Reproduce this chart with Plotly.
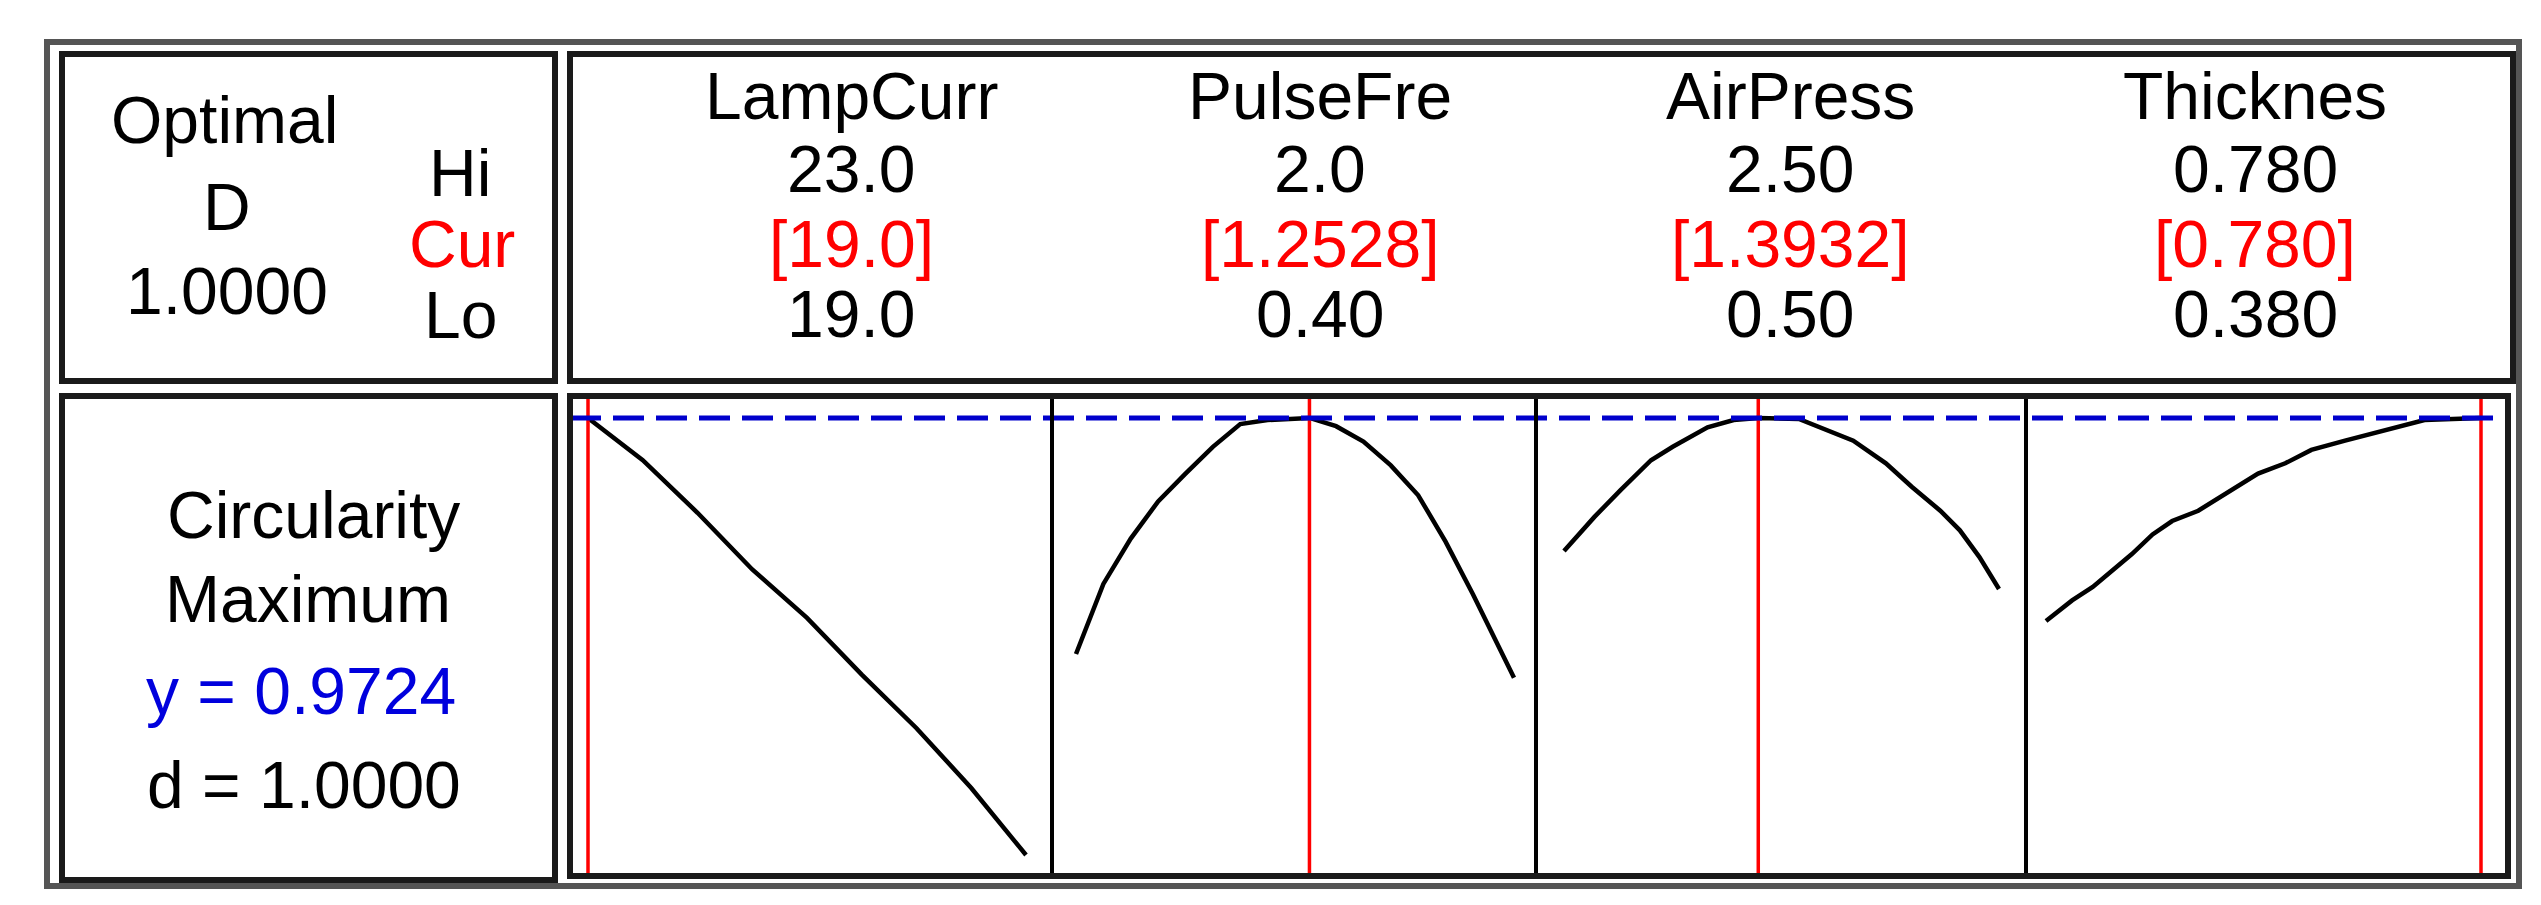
import plotly.graph_objects as go

W, H = 2541, 905

# optimizer settings
factors = ["LampCurr", "PulseFre", "AirPress", "Thicknes"]
hi_labels = ["23.0", "2.0", "2.50", "0.780"]
cur_labels = ["[19.0]", "[1.2528]", "[1.3932]", "[0.780]"]
lo_labels = ["19.0", "0.40", "0.50", "0.380"]
lo_vals = [19.0, 0.40, 0.50, 0.380]
hi_vals = [23.0, 2.0, 2.50, 0.780]
cur_vals = [19.0, 1.2528, 1.3932, 0.780]
y_opt = 0.9724

# response traces
lamp_x = [19.0, 19.5, 20.0, 20.5, 21.0, 21.5, 22.0, 22.5, 23.0]
lamp_y = [0.9724, 0.9683, 0.9632, 0.9577, 0.9530, 0.9475, 0.9423, 0.9365, 0.9300]

pulse_x = [0.40, 0.50, 0.60, 0.70, 0.80, 0.90, 1.00, 1.10, 1.2528, 1.35, 1.45, 1.55, 1.65, 1.75, 1.85, 1.95, 2.00]
pulse_y = [0.9495, 0.9563, 0.9607, 0.9643, 0.9670, 0.9696, 0.9718, 0.9722, 0.9724, 0.9716, 0.9701, 0.9678, 0.9649, 0.9604, 0.9553, 0.9500, 0.9472]

air_x = [0.50, 0.64, 0.76, 0.90, 1.00, 1.16, 1.28, 1.3932, 1.58, 1.68, 1.83, 1.98, 2.10, 2.23, 2.32, 2.41, 2.50]
air_y = [0.9595, 0.9628, 0.9654, 0.9683, 0.9696, 0.9715, 0.9722, 0.9724, 0.9723, 0.9715, 0.9702, 0.9680, 0.9657, 0.9634, 0.9615, 0.9589, 0.9558]

thick_x = [0.380, 0.404, 0.423, 0.441, 0.459, 0.478, 0.496, 0.520, 0.551, 0.575, 0.600, 0.624, 0.655, 0.691, 0.728, 0.780]
thick_y = [0.9527, 0.9547, 0.9560, 0.9576, 0.9592, 0.9611, 0.9624, 0.9634, 0.9654, 0.9670, 0.9680, 0.9693, 0.9702, 0.9712, 0.9722, 0.9724]

curves = [(lamp_x, lamp_y), (pulse_x, pulse_y), (air_x, air_y), (thick_x, thick_y)]


def X(px):
    return px / W


def Y(py):
    return 1 - py / H


FONT = "Liberation Sans, Arial, sans-serif"
FS = 66

# panel geometry (pixels)
edges = [562, 1044, 1528, 2018, 2500]
p_top, p_bot = 388, 868
# pixel spots of the Lo and Hi settings inside each panel
lo_px = [580, 1068, 1556, 2038]
hi_px = [1018, 1506, 1991, 2473]
y_range = [0.92796, 0.97453]

fig = go.Figure()
layout = dict(
    width=W, height=H,
    margin=dict(l=0, r=0, t=0, b=0),
    paper_bgcolor="white", plot_bgcolor="rgba(0,0,0,0)",
    showlegend=False,
)

for i, (cx, cy) in enumerate(curves):
    n = "" if i == 0 else str(i + 1)
    L, R = edges[i], edges[i + 1]
    s = (hi_vals[i] - lo_vals[i]) / (hi_px[i] - lo_px[i])
    layout["xaxis" + n] = dict(
        domain=[X(L), X(R)],
        range=[lo_vals[i] - (lo_px[i] - L) * s, hi_vals[i] + (R - hi_px[i]) * s],
        anchor="y" + n, visible=False, fixedrange=True,
    )
    layout["yaxis" + n] = dict(
        domain=[Y(p_bot), Y(p_top)], range=y_range,
        anchor="x" + n, visible=False, fixedrange=True,
    )
    fig.add_trace(go.Scatter(
        x=cx, y=cy, mode="lines", xaxis="x" + n, yaxis="y" + n,
        line=dict(color="black", width=4.5), hoverinfo="skip",
    ))

fig.update_layout(**layout)

shapes = []


def rect(x0, y0, x1, y1, color, width):
    shapes.append(dict(type="rect", xref="paper", yref="paper",
                       x0=X(x0), x1=X(x1), y0=Y(y1), y1=Y(y0),
                       line=dict(color=color, width=width)))


# outer frame and boxes
rect(39, 34, 2511, 878, "#555555", 6)
rect(54, 46, 547, 373, "#1a1a1a", 6)
rect(562, 46, 2505, 373, "#1a1a1a", 6)
rect(54, 388, 547, 872, "#1a1a1a", 6)

# red current-setting lines
for i, v in enumerate(cur_vals):
    n = "" if i == 0 else str(i + 1)
    shapes.append(dict(type="line", xref="x" + n, yref="y" + n + " domain",
                       x0=v, x1=v, y0=0, y1=1,
                       line=dict(color="#ff0000", width=3.5)))

# optimal response line
shapes.append(dict(type="line", xref="paper", yref="y",
                   x0=X(edges[0]), x1=X(edges[-1]), y0=y_opt, y1=y_opt,
                   line=dict(color="#0000cc", width=5, dash="31px,12px")))

# panel dividers and panel frame
for e in edges[1:-1]:
    shapes.append(dict(type="line", xref="paper", yref="paper",
                       x0=X(e), x1=X(e), y0=Y(p_bot), y1=Y(p_top),
                       line=dict(color="black", width=4)))
rect(edges[0], p_top, edges[-1], p_bot, "#1a1a1a", 6)

fig.update_layout(shapes=shapes)

ann = []


def text(s, x, y, color="black"):
    ann.append(dict(text=s, x=X(x), y=Y(y), xref="paper", yref="paper",
                    showarrow=False, xanchor="center", yanchor="middle",
                    font=dict(family=FONT, size=FS, color=color)))


text("Optimal", 216, 112)
text("D", 219, 199)
text("1.0000", 219, 283)
text("Hi", 452, 165)
text("Cur", 454, 236, "#ff0000")
text("Lo", 452, 307)

col_x = [843, 1312, 1782, 2247]
for i in range(4):
    text(factors[i], col_x[i], 88)
    text(hi_labels[i], col_x[i], 161)
    text(cur_labels[i], col_x[i], 236, "#ff0000")
    text(lo_labels[i], col_x[i], 306)

text("Circularity", 305, 507)
text("Maximum", 300, 591)
text("y = %.4f" % y_opt, 293, 683, "#0000dd")
text("d = 1.0000", 296, 777)

fig.update_layout(annotations=ann)

fig.write_html("out.html")
